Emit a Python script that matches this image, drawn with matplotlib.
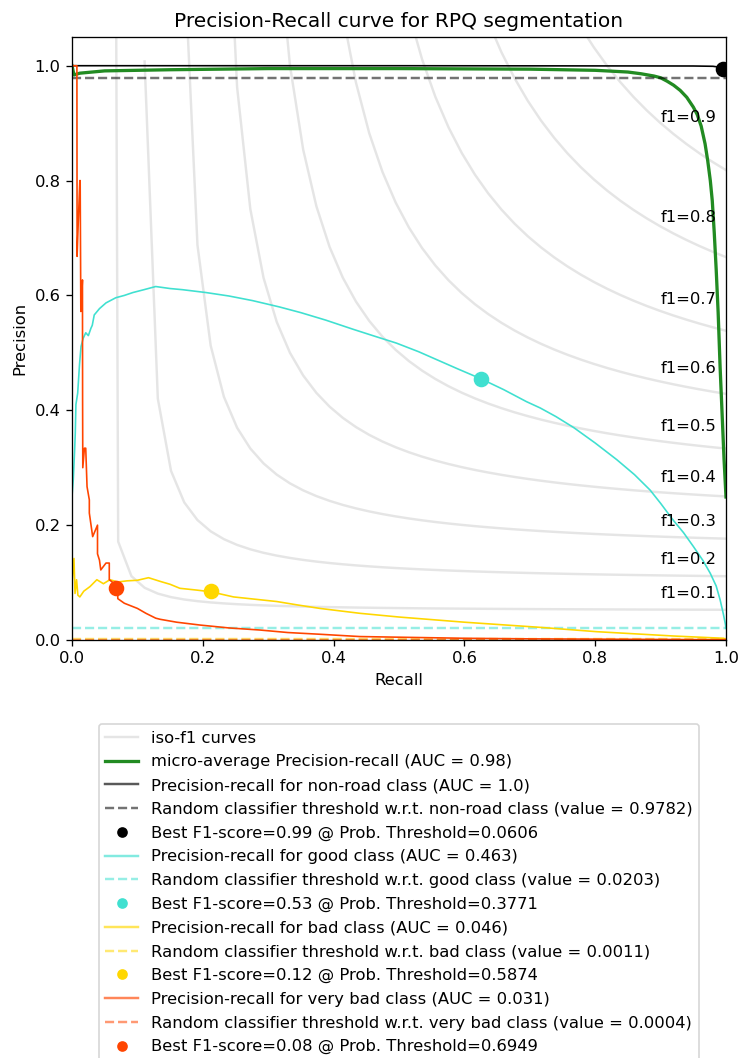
import numpy as np
import matplotlib
matplotlib.use('Agg')
import matplotlib.pyplot as plt
from matplotlib.lines import Line2D


# iso-f1 levels drawn in the background
f_scores = [0.1, 0.2, 0.3, 0.4, 0.5, 0.6, 0.7, 0.8, 0.9]

# micro-average curve
micro_recall = [0.0, 0.003, 0.012, 0.05, 0.15, 0.3, 0.5, 0.7, 0.8, 0.85, 0.87, 0.89, 0.90,
                0.91, 0.92, 0.93, 0.94, 0.95, 0.956, 0.962, 0.968, 0.972, 0.976, 0.979, 0.982,
                0.985, 0.988, 0.991, 0.994, 0.997, 1.0]
micro_precision = [1.0, 0.984, 0.987, 0.991, 0.993, 0.995, 0.995, 0.994, 0.992, 0.989, 0.986,
                   0.982, 0.979, 0.973, 0.966, 0.957, 0.945, 0.928, 0.915, 0.895, 0.864, 0.835,
                   0.800, 0.765, 0.710, 0.645, 0.570, 0.475, 0.395, 0.315, 0.249]

# per-class curves
nonroad_recall = [0.0, 0.5, 0.95, 0.98, 0.993, 1.0]
nonroad_precision = [1.0, 1.0, 0.9995, 0.999, 0.997, 0.993]

good_recall = [0.0, 0.002, 0.004, 0.005, 0.006, 0.0087, 0.0115, 0.0138, 0.017, 0.021, 0.025,
               0.029, 0.031, 0.034, 0.042, 0.052, 0.067, 0.080, 0.093, 0.110, 0.128, 0.150,
               0.169, 0.205, 0.240, 0.276, 0.317, 0.350, 0.388, 0.430, 0.460, 0.496, 0.530,
               0.558, 0.590, 0.625, 0.660, 0.695, 0.716, 0.740, 0.767, 0.800, 0.833, 0.860,
               0.884, 0.900, 0.919, 0.935, 0.950, 0.965, 0.976, 0.985, 0.991, 0.996, 0.999, 1.0]
good_precision = [0.25, 0.28, 0.33, 0.36, 0.41, 0.43, 0.48, 0.511, 0.525, 0.535, 0.530,
                  0.543, 0.548, 0.566, 0.577, 0.587, 0.596, 0.600, 0.605, 0.610, 0.6155, 0.612,
                  0.610, 0.605, 0.599, 0.591, 0.580, 0.570, 0.557, 0.541, 0.530, 0.517, 0.502,
                  0.488, 0.472, 0.455, 0.436, 0.415, 0.404, 0.389, 0.370, 0.343, 0.314, 0.288,
                  0.261, 0.238, 0.209, 0.187, 0.163, 0.138, 0.116, 0.094, 0.070, 0.045, 0.028, 0.0203]

bad_recall = [0.0, 0.003, 0.0046, 0.007, 0.009, 0.012, 0.018, 0.0275, 0.038, 0.048, 0.058,
              0.070, 0.084, 0.100, 0.117, 0.135, 0.150, 0.165, 0.190, 0.212, 0.247, 0.280,
              0.313, 0.345, 0.379, 0.440, 0.50, 0.60, 0.716, 0.802, 0.919, 0.996, 1.0]
bad_precision = [0.10, 0.142, 0.081, 0.105, 0.078, 0.075, 0.085, 0.093, 0.105, 0.098, 0.105,
                 0.101, 0.103, 0.104, 0.1085, 0.102, 0.097, 0.090, 0.087, 0.084, 0.075, 0.071,
                 0.067, 0.061, 0.055, 0.0465, 0.040, 0.031, 0.022, 0.0145, 0.007, 0.003, 0.0011]

very_bad_recall = [0.0, 0.0046, 0.0075, 0.0078, 0.0087, 0.0120, 0.0125, 0.0135, 0.0140, 0.0160,
                   0.0162, 0.0165, 0.019, 0.021, 0.023, 0.0265, 0.0265, 0.0316, 0.039, 0.039,
                   0.042, 0.044, 0.052, 0.057, 0.057, 0.068, 0.070, 0.070, 0.080, 0.100, 0.113,
                   0.128, 0.135, 0.160, 0.196, 0.240, 0.287, 0.33, 0.379, 0.440, 0.52, 0.60,
                   0.70, 0.80, 0.90, 1.0]
very_bad_precision = [1.0, 1.0, 1.0, 0.668, 0.70, 0.80, 0.80, 0.572, 0.58, 0.627,
                      0.42, 0.30, 0.334, 0.334, 0.267, 0.244, 0.221, 0.180, 0.200, 0.150,
                      0.139, 0.122, 0.134, 0.134, 0.105, 0.095, 0.090, 0.072, 0.064, 0.055, 0.0465,
                      0.038, 0.036, 0.031, 0.026, 0.021, 0.0174, 0.013, 0.010, 0.006, 0.0045, 0.003,
                      0.002, 0.0015, 0.001, 0.0004]

class_names = ['non-road', 'good', 'bad', 'very bad']
class_colors = ['black', 'turquoise', 'gold', 'orangered']
class_auc = ['1.0', '0.463', '0.046', '0.031']
random_value = [0.9782, 0.0203, 0.0011, 0.0004]
best_f1 = [0.99, 0.53, 0.12, 0.08]
best_threshold = [0.0606, 0.3771, 0.5874, 0.6949]
best_recall = [0.996, 0.625, 0.212, 0.068]
best_precision = [0.995, 0.455, 0.085, 0.091]
class_recall = [nonroad_recall, good_recall, bad_recall, very_bad_recall]
class_precision = [nonroad_precision, good_precision, bad_precision, very_bad_precision]

dpi = 118
fig = plt.figure(figsize=(740 / dpi, 1058 / dpi), dpi=dpi)
ax = fig.add_axes([72 / 740, 1 - 640 / 1058, 654 / 740, 603 / 1058])

handles = []
for f_score in f_scores:
    x = np.linspace(0.01, 1)
    y = f_score * x / (2 * x - f_score)
    ax.plot(x[y >= 0], y[y >= 0], color='gray', alpha=0.2)
    ax.annotate('f1={0:0.1f}'.format(f_score), xy=(0.9, y[45] + 0.02))
handles.append(Line2D([], [], color='gray', alpha=0.2, lw=1.5))

ax.plot(micro_recall, micro_precision, color='forestgreen', lw=2)
handles.append(Line2D([], [], color='forestgreen', lw=2))

labels = ['iso-f1 curves', 'micro-average Precision-recall (AUC = 0.98)']
for i, name in enumerate(class_names):
    c = class_colors[i]
    ax.plot(class_recall[i], class_precision[i], color=c, lw=1)
    ax.axhline(random_value[i], color=c, ls='--', lw=1.5, alpha=0.55)
    ax.plot(best_recall[i], best_precision[i], 'o', color=c, ms=8.5)
    handles += [Line2D([], [], color=c, lw=1.5, alpha=0.65),
                Line2D([], [], color=c, lw=1.5, ls='--', alpha=0.55),
                Line2D([], [], color=c, marker='o', ls='', ms=5.5)]
    labels += ['Precision-recall for {} class (AUC = {})'.format(name, class_auc[i]),
               'Random classifier threshold w.r.t. {} class (value = {:.4f})'.format(name, random_value[i]),
               'Best F1-score={:.2f} @ Prob. Threshold={:.4f}'.format(best_f1[i], best_threshold[i])]

ax.set_xlim([0.0, 1.0])
ax.set_ylim([0.0, 1.05])
ax.set_xlabel('Recall')
ax.set_ylabel('Precision')
ax.set_title('Precision-Recall curve for RPQ segmentation', fontsize=12.25)

fig.legend(handles, labels, loc='upper center', labelspacing=0.53,
           bbox_to_anchor=(399 / 740, 1 - 716 / 1058))

fig.savefig('out.png', dpi=dpi)
